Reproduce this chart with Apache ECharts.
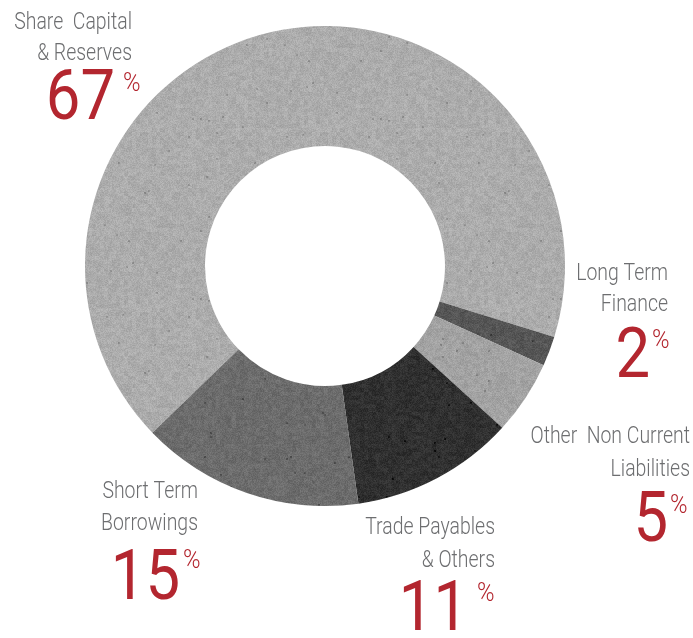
<!DOCTYPE html>
<html>
<head>
<meta charset="utf-8">
<title>Liabilities & Equity</title>
<script src="https://cdn.jsdelivr.net/npm/echarts@6/dist/echarts.min.js"></script>
<style>
  html, body { margin: 0; padding: 0; background: #ffffff; }
  #chart { width: 693px; height: 638px; }
</style>
</head>
<body>
<div id="chart"></div>
<script>
// Funding mix categories, their shares (%) and slice tones
const categories = [
  'Share Capital & Reserves',
  'Long Term Finance',
  'Other Non Current Liabilities',
  'Trade Payables & Others',
  'Short Term Borrowings'
];
const nameLines = [
  ['Share  Capital', '& Reserves'],
  ['Long Term', 'Finance'],
  ['Other  Non Current', 'Liabilities'],
  ['Trade Payables', '& Others'],
  ['Short Term', 'Borrowings']
];
const shares = [67, 2, 5, 11, 15];
const sliceTones = [172, 86, 162, 48, 108];

// Where each callout sits: right edge / first baseline of the name,
// right edge / baseline of the big number, left / top of the % mark.
const callouts = [
  { nameRight: 132, nameBase: 31, lineGap: 31, numRight: 115, numBase: 125, pctLeft: 123, pctTop: 75 },
  { nameRight: 668, nameBase: 282, lineGap: 31, numRight: 650, numBase: 383, pctLeft: 652, pctTop: 332 },
  { nameRight: 690, nameBase: 445, lineGap: 33, numRight: 668, numBase: 547, pctLeft: 670, pctTop: 497 },
  { nameRight: 495, nameBase: 536, lineGap: 33, numRight: 468, numBase: 636, pctLeft: 477, pctTop: 585 },
  { nameRight: 198, nameBase: 500, lineGap: 32, numRight: 180, numBase: 605, pctLeft: 183, pctTop: 552 }
];

const family = "Roboto, 'Liberation Sans', sans-serif";
const nameColor = '#6d6e70';
const accent = '#b3262f';
const NAME_SIZE = 24, NUM_SIZE = 70, PCT_SIZE = 25;
const NAME_SQUEEZE = 0.81, NUM_SQUEEZE = 0.88;
const MID = 0.34; // distance from text middle to alphabetic baseline, in em

function textAt(text, x, baseline, size, weight, color, align, squeeze) {
  return {
    type: 'text',
    silent: true,
    z: 10,
    x: x,
    y: baseline - MID * size,
    scaleX: squeeze,
    style: {
      text: text,
      x: 0,
      y: 0,
      font: weight + ' ' + size + 'px ' + family,
      fill: color,
      align: align,
      verticalAlign: 'middle'
    }
  };
}

const graphics = [];
callouts.forEach(function (c, i) {
  nameLines[i].forEach(function (line, k) {
    graphics.push(textAt(line, c.nameRight, c.nameBase + k * c.lineGap, NAME_SIZE, 300, nameColor, 'right', NAME_SQUEEZE));
  });
  graphics.push(textAt(String(shares[i]), c.numRight, c.numBase, NUM_SIZE, 400, accent, 'right', NUM_SQUEEZE));
  graphics.push(textAt('%', c.pctLeft, c.pctTop + 0.71 * PCT_SIZE, PCT_SIZE, 300, accent, 'left', 0.95));
});

// Small deterministic hash for a stone-like grain on each slice
function hash(x, y, s) {
  let h = (x * 374761393 + y * 668265263 + s * 1442695041) | 0;
  h = Math.imul(h ^ (h >>> 13), 1274126177);
  h ^= h >>> 16;
  return (h >>> 0) / 4294967295;
}

function grainTile(tone, seed) {
  const size = 180;
  const cv = document.createElement('canvas');
  cv.width = size; cv.height = size;
  const ctx = cv.getContext('2d');
  const img = ctx.createImageData(size, size);
  for (let y = 0; y < size; y++) {
    for (let x = 0; x < size; x++) {
      const fine = hash(x, y, seed) - 0.5;
      const coarse = hash(x >> 2, y >> 2, seed + 7) - 0.5;
      let v = tone + fine * 20 + coarse * 12;
      if (hash(x >> 1, y >> 1, seed + 13) < 0.004) v -= 28;
      v = Math.max(0, Math.min(255, v));
      const p = (y * size + x) * 4;
      img.data[p] = v; img.data[p + 1] = v; img.data[p + 2] = v; img.data[p + 3] = 255;
    }
  }
  ctx.putImageData(img, 0, 0);
  return cv;
}

const chart = echarts.init(document.getElementById('chart'), null, { renderer: 'canvas' });
chart.setOption({
  animation: false,
  backgroundColor: '#ffffff',
  series: [{
    type: 'pie',
    center: [325, 266],
    radius: [120, 240],
    startAngle: 224,
    clockwise: true,
    silent: true,
    label: { show: false },
    labelLine: { show: false },
    itemStyle: { borderWidth: 0 },
    data: categories.map(function (name, i) {
      return {
        name: name,
        value: shares[i],
        itemStyle: { color: { image: grainTile(sliceTones[i], i + 1), repeat: 'repeat' } }
      };
    })
  }],
  graphic: graphics
});
</script>
</body>
</html>
